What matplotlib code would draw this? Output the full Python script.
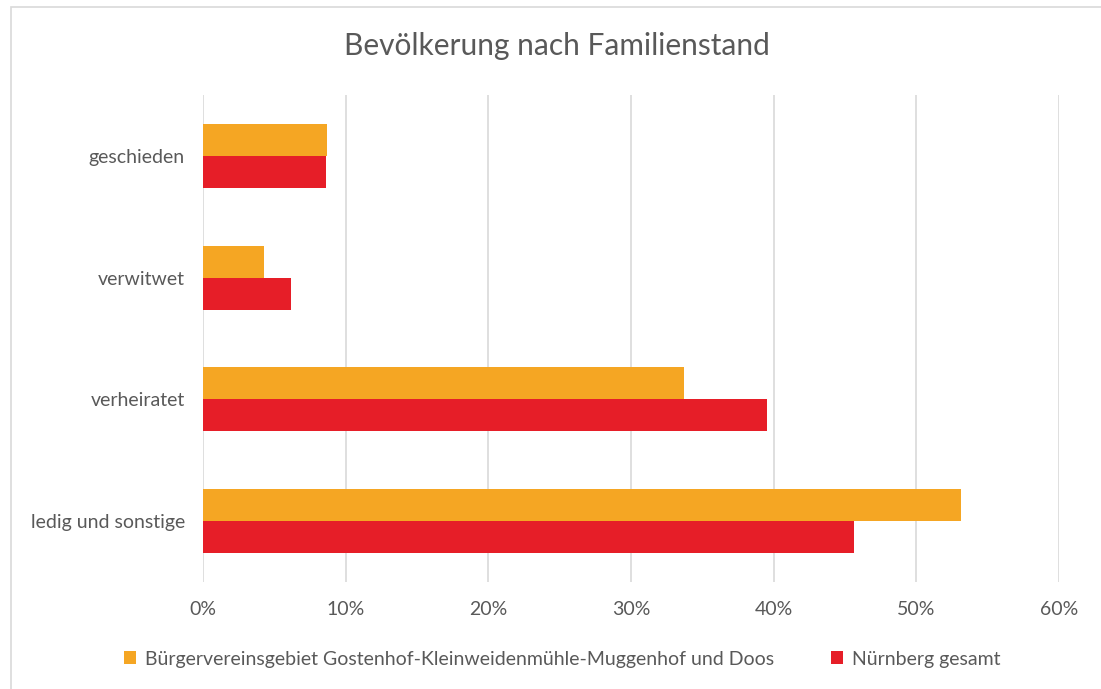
import numpy as np
import matplotlib.pyplot as plt
from matplotlib.patches import Rectangle
from matplotlib.ticker import FuncFormatter

categories = ["ledig und sonstige", "verheiratet", "verwitwet", "geschieden"]
buergerverein = [53.1, 33.7, 4.3, 8.7]
nuernberg = [45.6, 39.5, 6.2, 8.6]
series_names = [
    "Bürgervereinsgebiet Gostenhof-Kleinweidenmühle-Muggenhof und Doos",
    "Nürnberg gesamt",
]
xticks = [0, 10, 20, 30, 40, 50, 60]

orange = "#f5a623"
red = "#e61e28"
text_col = "#595959"
grid_col = "#d9d9d9"

plt.rcParams["font.family"] = ["Lato", "DejaVu Sans"]

W, H = 1101, 689
fig = plt.figure(figsize=(W / 100, H / 100), dpi=100)
ax = fig.add_axes([203 / W, 1 - 582 / H, (1059 - 203) / W, (582 - 95) / H])

y = np.arange(len(categories))
h = 0.262
ax.barh(y + h / 2, buergerverein, height=h, color=orange, label=series_names[0], zorder=3)
ax.barh(y - h / 2, nuernberg, height=h, color=red, label=series_names[1], zorder=3)

ax.set_xlim(0, 60)
ax.set_ylim(-0.5, len(categories) - 0.5)
ax.set_xticks(xticks)
ax.xaxis.set_major_formatter(FuncFormatter(lambda v, p: f"{v:.0f}%"))
ax.set_yticks(y)
ax.set_yticklabels(categories)
ax.tick_params(axis="both", length=0, labelsize=14, colors=text_col)
ax.tick_params(axis="x", pad=14)
ax.tick_params(axis="y", pad=13)
ax.grid(axis="x", color=grid_col, linewidth=1.2, zorder=0)
for s in ax.spines.values():
    s.set_visible(False)

fig.text(557 / W, 1 - 46 / H, "Bevölkerung nach Familienstand", ha="center", va="center",
         fontsize=21.5, color=text_col)

leg = fig.legend(loc="center", bbox_to_anchor=(562 / W, 1 - 659 / H), ncol=2, frameon=False,
                 fontsize=14, handlelength=0.65, handleheight=0.65, handletextpad=0.45,
                 columnspacing=2.9, labelcolor=text_col)

fig.patches.append(Rectangle((11 / W, -0.1), 1.2, 1 - 7 / H + 0.1, transform=fig.transFigure,
                             fill=False, edgecolor="#d9d9d9", linewidth=1.2))

fig.savefig("out.png", dpi=100)
